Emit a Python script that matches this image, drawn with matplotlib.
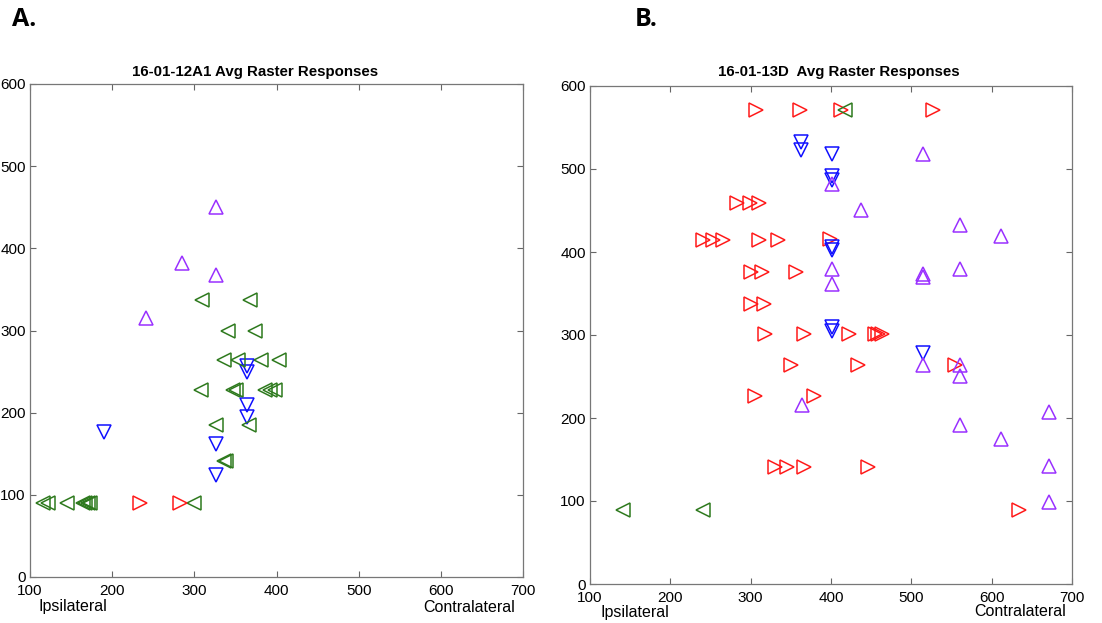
import matplotlib
matplotlib.use("Agg")
import matplotlib.pyplot as plt

plt.rcParams['font.family'] = ['Liberation Sans', 'DejaVu Sans']

# Panel A: 16-01-12A1
a_up_x = [326, 285, 326, 241]
a_up_y = [450, 382, 367, 315]
a_down_x = [364, 364, 364, 364, 190, 326, 326]
a_down_y = [257, 250, 209, 195, 177, 162, 124]
a_left_x = [309, 368, 341, 374, 336, 353, 381, 403, 308, 347, 351, 386, 392, 398,
            326, 366, 336, 338, 116, 122, 145, 164, 167, 170, 173, 299]
a_left_y = [337, 337, 300, 300, 264, 264, 264, 264, 227, 227, 227, 227, 227, 227,
            185, 185, 141, 141, 90, 90, 90, 90, 90, 90, 90, 90]
a_right_x = [234, 282]
a_right_y = [90, 90]

# Panel B: 16-01-13D
b_up_x = [401, 515, 437, 560, 611, 401, 401, 515, 515, 560, 560, 560, 515,
          364, 671, 560, 611, 671, 671]
b_up_y = [482, 518, 451, 432, 419, 379, 362, 373, 370, 379, 264, 251, 264,
          216, 207, 192, 175, 142, 99]
b_down_x = [363, 363, 401, 401, 401, 401, 401, 401, 401, 515]
b_down_y = [533, 523, 518, 492, 487, 406, 402, 310, 305, 278]
b_left_x = [417, 141, 241]
b_left_y = [571, 89, 89]
b_right_x = [307, 361, 412, 527, 283, 299, 310, 241, 253, 266, 310, 334, 399,
             301, 314, 357, 301, 316, 318, 366, 422, 455, 459, 463,
             350, 434, 554, 305, 379, 330, 345, 366, 446, 634]
b_right_y = [571, 571, 571, 571, 459, 459, 459, 415, 415, 415, 415, 415, 416,
             376, 376, 376, 337, 337, 301, 301, 301, 301, 301, 301,
             264, 264, 264, 226, 226, 141, 141, 141, 141, 89]

PURPLE = "#9a30ff"
BLUE = "#1010ff"
GREEN = "#2e7a1e"
RED = "#ff1a1a"

ticks = [100, 200, 300, 400, 500, 600, 700]
yticks = [0, 100, 200, 300, 400, 500, 600]


def style_axes(ax):
    ax.set_xlim(100, 700)
    ax.set_ylim(0, 600)
    ax.set_xticks(ticks)
    ax.set_yticks(yticks)
    ax.tick_params(direction="in", length=4, width=0.8, color="#666666",
                   top=True, right=True, labelsize=11)
    ax.tick_params(axis="x", pad=5)
    ax.tick_params(axis="y", pad=3)
    for s in ax.spines.values():
        s.set_color("#777777")
        s.set_linewidth(0.9)


def draw(ax, data):
    for xs, ys, m, c in data:
        ax.plot(xs, ys, linestyle="none", marker=m, markersize=10,
                markerfacecolor="none", markeredgecolor=c, markeredgewidth=1.1)


fig = plt.figure(figsize=(11.02, 6.23), dpi=100)

ax1 = fig.add_axes([30 / 1102, 46 / 623, 493 / 1102, 493 / 623])
draw(ax1, [(a_up_x, a_up_y, "^", PURPLE), (a_down_x, a_down_y, "v", BLUE),
           (a_left_x, a_left_y, "<", GREEN), (a_right_x, a_right_y, ">", RED)])
style_axes(ax1)

ax2 = fig.add_axes([590 / 1102, 39 / 623, 482 / 1102, 498 / 623])
draw(ax2, [(b_right_x, b_right_y, ">", RED), (b_left_x, b_left_y, "<", GREEN),
           (b_down_x, b_down_y, "v", BLUE), (b_up_x, b_up_y, "^", PURPLE)])
style_axes(ax2)

# titles and labels
fig.text(255 / 1102, 1 - 72 / 623, "16-01-12A1 Avg Raster Responses",
         ha="center", va="center", fontsize=10.8, fontweight="bold")
fig.text(839 / 1102, 1 - 72 / 623, "16-01-13D  Avg Raster Responses",
         ha="center", va="center", fontsize=10.8, fontweight="bold")
fig.text(12 / 1102, 1 - 19 / 623, "A.", ha="left", va="center",
         fontsize=18, fontweight="bold", family=["Open Sans", "DejaVu Sans"])
fig.text(635 / 1102, 1 - 19 / 623, "B.", ha="left", va="center",
         fontsize=18, fontweight="bold", family=["Open Sans", "DejaVu Sans"])

fig.text(38 / 1102, 1 - 607 / 623, "Ipsilateral", ha="left", va="center", fontsize=11.5)
fig.text(515 / 1102, 1 - 607 / 623, "Contralateral", ha="right", va="center", fontsize=11.5)
fig.text(600 / 1102, 1 - 612 / 623, "Ipsilateral", ha="left", va="center", fontsize=11.5)
fig.text(1066 / 1102, 1 - 612 / 623, "Contralateral", ha="right", va="center", fontsize=11.5)

fig.savefig("out.png", dpi=100)
